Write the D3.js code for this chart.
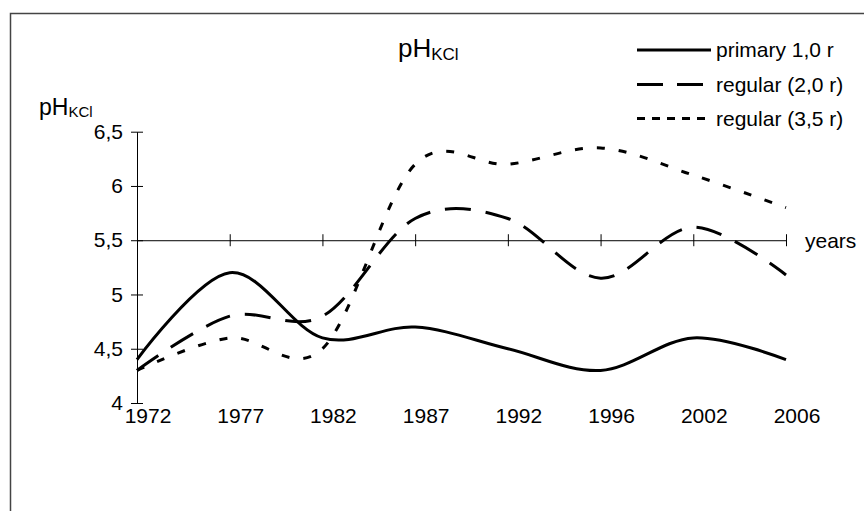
<!DOCTYPE html>
<html>
<head>
<meta charset="utf-8">
<script src="https://cdn.jsdelivr.net/npm/d3@7"></script>
<style>
  html, body { margin: 0; padding: 0; background: #fff; }
  svg { display: block; font-family: "Liberation Sans", Arial, sans-serif; }
</style>
</head>
<body>
<svg id="chart" width="864" height="511"></svg>
<script>
// ---- data ----
const years = ["1972", "1977", "1982", "1987", "1992", "1996", "2002", "2006"];
const primary10 = [4.4, 5.2, 4.6, 4.7, 4.5, 4.3, 4.6, 4.4];
const regular20 = [4.3, 4.8, 4.8, 5.7, 5.7, 5.15, 5.62, 5.18];
const regular35 = [4.3, 4.6, 4.5, 6.2, 6.2, 6.35, 6.1, 5.8];
const seriesNames = ["primary 1,0 r", "regular (2,0 r)", "regular (3,5 r)"];
const yTicks = [4, 4.5, 5, 5.5, 6, 6.5];

const series = [
  { name: seriesNames[0], values: primary10, dash: null, legendDash: null },
  { name: seriesNames[1], values: regular20, dash: "26,15", legendDash: "26,14" },
  { name: seriesNames[2], values: regular35, dash: "8,14", legendDash: "8,7" }
];

const svg = d3.select("#chart");

// frame
svg.append("rect")
  .attr("x", 10.5).attr("y", 13.5)
  .attr("width", 900).attr("height", 600)
  .attr("fill", "none").attr("stroke", "#444").attr("stroke-width", 1.5);

const x = d3.scalePoint().domain(years).range([137, 786]);
const y = d3.scaleLinear().domain([4, 6.5]).range([403, 131.7]);
const fmt = v => String(v).replace(".", ",");

// y axis
const yAxis = svg.append("g").attr("transform", "translate(137,0)")
  .call(d3.axisLeft(y).tickValues(yTicks).tickFormat(fmt).tickSizeInner(6).tickSizeOuter(0).tickPadding(8));
yAxis.select(".domain").attr("stroke", "#000");
yAxis.selectAll(".tick line").attr("stroke", "#000").attr("x2", 6).attr("x1", -6);
yAxis.selectAll(".tick text").attr("font-size", 21).attr("fill", "#000")
  .attr("font-family", "Liberation Sans, Arial, sans-serif");

// x axis line at 5.5
const y55 = y(5.5);
const xAxis = svg.append("g").attr("transform", `translate(0,${y55})`)
  .call(d3.axisBottom(x).tickSizeInner(6).tickSizeOuter(0).tickFormat(""));
xAxis.select(".domain").attr("stroke", "#000");
xAxis.selectAll(".tick line").attr("stroke", "#000").attr("y1", -6).attr("y2", 6);

// category labels at the bottom
svg.append("g").selectAll("text").data(years).join("text")
  .attr("x", d => x(d) + 11)
  .attr("y", y(4) + 13)
  .attr("dy", "0.35em")
  .attr("text-anchor", "middle")
  .attr("font-size", 21)
  .text(d => d);

// years label
svg.append("text").attr("x", 805).attr("y", y55).attr("dy", "0.35em")
  .attr("font-size", 21).text("years");

// y axis title
const yt = svg.append("text").attr("x", 39).attr("y", 115).attr("font-size", 23);
yt.append("tspan").text("pH");
yt.append("tspan").attr("font-size", 15).attr("dy", 2).text("KCl");

// chart title
const tt = svg.append("text").attr("x", 398).attr("y", 57).attr("font-size", 26);
tt.append("tspan").text("pH");
tt.append("tspan").attr("font-size", 17).attr("dy", 3).text("KCl");

// lines
const line = d3.line()
  .x((d, i) => x(years[i]))
  .y(d => y(d))
  .curve(d3.curveCardinal.tension(0));

svg.append("g").selectAll("path").data(series).join("path")
  .attr("d", d => line(d.values))
  .attr("fill", "none")
  .attr("stroke", "#000")
  .attr("stroke-width", 3)
  .attr("stroke-dasharray", d => d.dash);

// legend
const legY = [50, 84.5, 118.5];
const leg = svg.append("g").selectAll("g").data(series).join("g")
  .attr("transform", (d, i) => `translate(0,${legY[i]})`);
leg.append("line").attr("x1", 637).attr("x2", (d, i) => i === 0 ? 711 : 712)
  .attr("stroke", "#000").attr("stroke-width", 3)
  .attr("stroke-dasharray", d => d.legendDash);
leg.append("text").attr("x", 716).attr("dy", "0.35em").attr("font-size", 21)
  .text(d => d.name);
</script>
</body>
</html>
